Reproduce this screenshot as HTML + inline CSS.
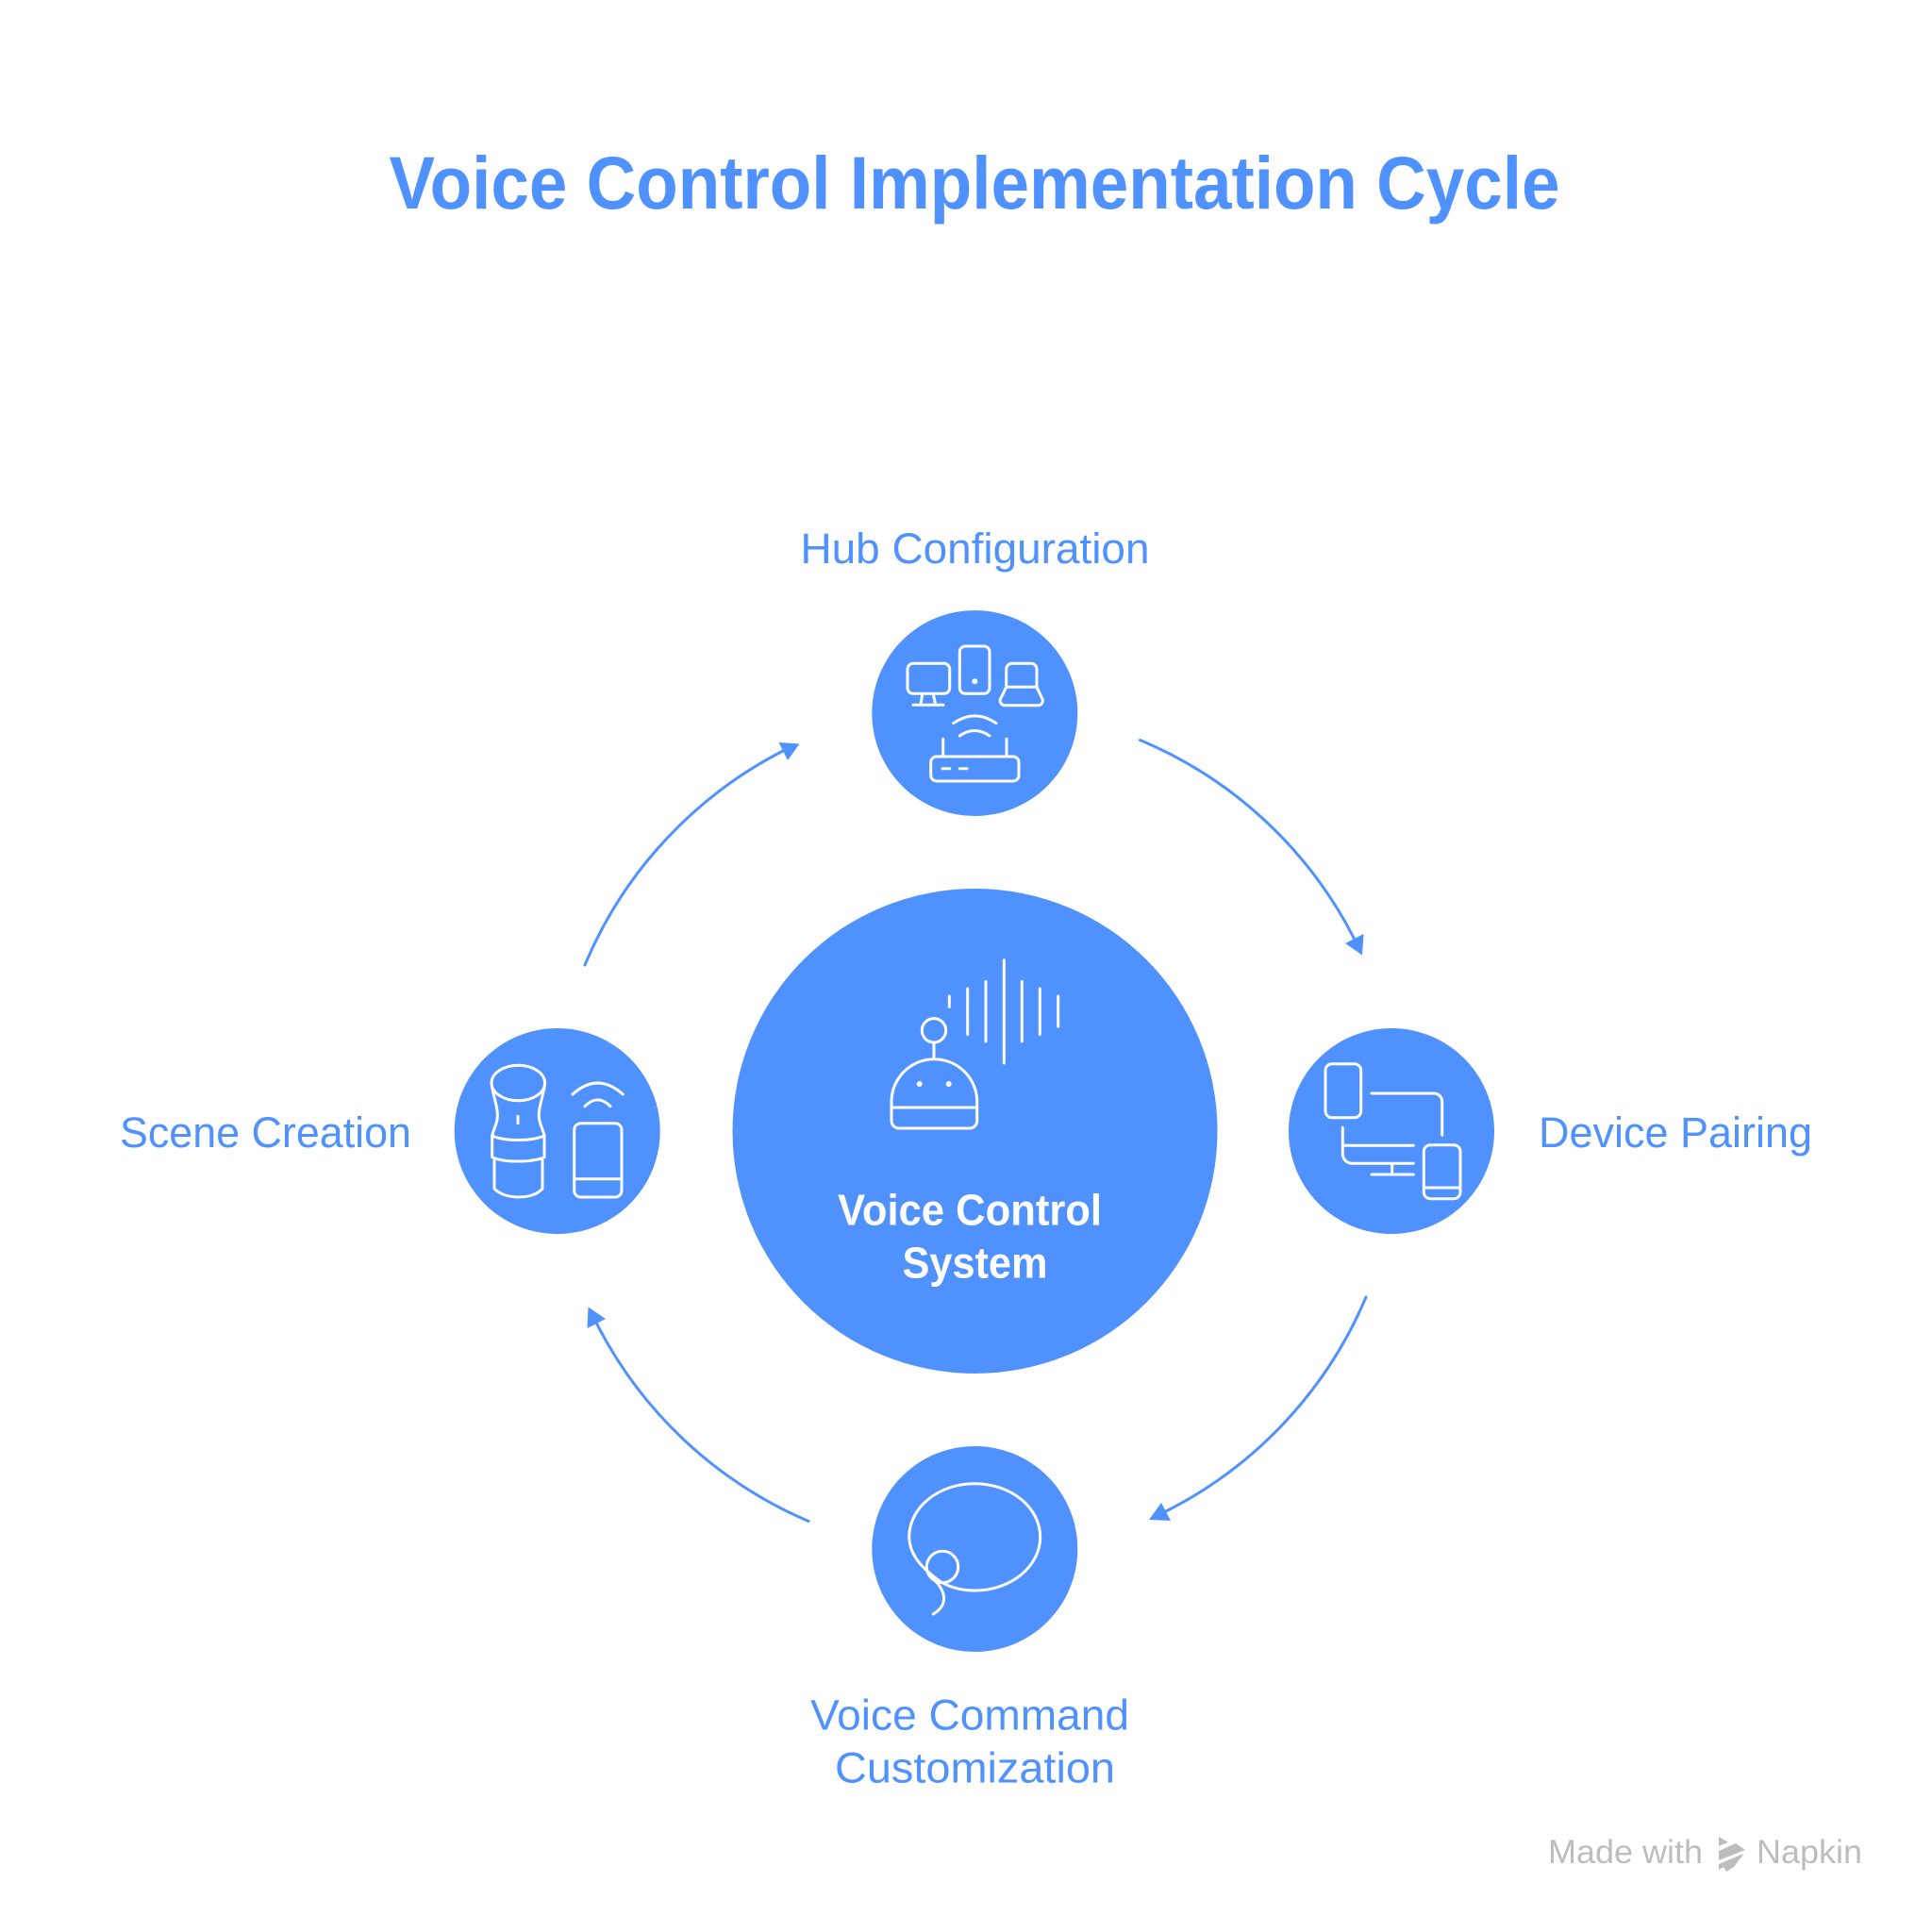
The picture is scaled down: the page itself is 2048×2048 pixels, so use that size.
<!DOCTYPE html>
<html>
<head>
<meta charset="utf-8">
<style>
html,body{margin:0;padding:0;background:#fff;}
svg{display:block;}
text{font-family:"Liberation Sans",sans-serif;}
.ic{fill:none;stroke:#fff;stroke-width:3;stroke-linecap:round;stroke-linejoin:round;}
.ar{fill:none;stroke:#4f92ff;stroke-width:3;stroke-linecap:round;}
.lb{fill:#4f92ff;font-size:45px;}
.cn{fill:#fff;font-size:46px;font-weight:bold;}
.wm{fill:#bdbdbd;font-size:35px;}
</style>
</head>
<body>
<svg width="2048" height="2048" viewBox="0 0 2048 2048" xmlns="http://www.w3.org/2000/svg">
<rect width="2048" height="2048" fill="#fff"/>

<text x="412.5" y="221" font-size="79" font-weight="bold" fill="#4f92ff" textLength="1241" lengthAdjust="spacingAndGlyphs">Voice Control Implementation Cycle</text>

<text class="lb" x="848.5" y="597" textLength="370" lengthAdjust="spacingAndGlyphs">Hub Configuration</text>
<text class="lb" x="1631" y="1216" textLength="290" lengthAdjust="spacingAndGlyphs">Device Pairing</text>
<text class="lb" x="127" y="1216" textLength="309" lengthAdjust="spacingAndGlyphs">Scene Creation</text>
<text class="lb" x="859" y="1833.5" textLength="338" lengthAdjust="spacingAndGlyphs">Voice Command</text>
<text class="lb" x="885" y="1889.5" textLength="297" lengthAdjust="spacingAndGlyphs">Customization</text>

<circle cx="1033.5" cy="1199" r="257" fill="#4f92ff"/>
<circle cx="1033.3" cy="756" r="109" fill="#4f92ff"/>
<circle cx="1475" cy="1199" r="109" fill="#4f92ff"/>
<circle cx="1033.3" cy="1642" r="109" fill="#4f92ff"/>
<circle cx="590.7" cy="1199" r="109" fill="#4f92ff"/>

<text class="cn" x="888" y="1298.5" textLength="280" lengthAdjust="spacingAndGlyphs">Voice Control</text>
<text class="cn" x="956.5" y="1354.5" textLength="154" lengthAdjust="spacingAndGlyphs">System</text>

<!-- arrows -->
<path class="ar" d="M1208.5 784.5 A450 450 0 0 1 1436 996"/>
<polygon points="1444,1012.5 1426,1000 1445.5,990" fill="#4f92ff"/>
<path class="ar" d="M1448 1375 A450 450 0 0 1 1234 1603"/>
<polygon points="1218,1611 1231,1593 1241,1612" fill="#4f92ff"/>
<path class="ar" d="M857 1612.5 A450 450 0 0 1 632 1402"/>
<polygon points="623.5,1385.5 642,1398 622.5,1408" fill="#4f92ff"/>
<path class="ar" d="M620 1023 A450 450 0 0 1 832 795"/>
<polygon points="847.5,788.5 835,806 825.5,787" fill="#4f92ff"/>

<!-- hub icon -->
<g class="ic">
<rect x="962" y="703.3" width="44.7" height="32" rx="6"/>
<path d="M977.7 736L976 746.7M989.3 736L991.7 746.7M968 747.3H1000"/>
<rect x="1017.3" y="685" width="31.7" height="50.3" rx="6"/>
<path d="M1066.7 728.3V709.3a6 6 0 0 1 6-6H1093a6 6 0 0 1 6 6V728.3M1066.7 728.3H1099L1104.5 740a5 5 0 0 1-4.5 7.7H1065.5a5 5 0 0 1-4.5-7.7Z"/>
<path d="M1010.7 766.7Q1033.3 751 1056 766.7M1017.3 780Q1033.3 769 1049 780"/>
<path d="M999.7 783.3V801.7M1067 783.3V801.7"/>
<rect x="986.7" y="802" width="93.3" height="26" rx="6"/>
<path d="M999 814.7H1006.7M1017.3 814.7H1025"/>
</g>
<circle cx="1033.3" cy="722.3" r="3" fill="#fff"/>

<!-- center icon -->
<g class="ic">
<path d="M1006.3 1056V1067.3M1025.7 1048V1096.5M1045 1040.5V1104M1064.3 1017.7V1127M1083.3 1040.5V1104M1102.3 1048V1096.5M1121.7 1056V1088.3"/>
<circle cx="990" cy="1092.3" r="12.7"/>
<path d="M990 1105.3V1120.7"/>
<path d="M945 1166A45.4 45.4 0 0 1 1035.7 1166V1188a8 8 0 0 1-8 8H953a8 8 0 0 1-8-8Z"/>
<path d="M945 1174H1035.7"/>
</g>
<circle cx="974.7" cy="1149" r="3" fill="#fff"/>
<circle cx="1005.7" cy="1149" r="3" fill="#fff"/>

<!-- device icon -->
<g class="ic">
<rect x="1405" y="1127.7" width="37.7" height="57" rx="7"/>
<path d="M1454 1159H1520a8.7 8.7 0 0 1 8.7 8.7V1203.3"/>
<path d="M1423.3 1195.3V1223.3a10 10 0 0 0 10 10H1498.3M1423.3 1214.3H1498.3M1475.7 1233.3V1245M1454 1245H1498.3"/>
<rect x="1509.3" y="1213.7" width="38.7" height="57" rx="7"/>
<path d="M1509.3 1259H1548"/>
</g>

<!-- voice icon -->
<g class="ic">
<path d="M1033.2 1572.7C1071.6 1572.7 1102.7 1598 1102.7 1629.3C1102.7 1660.6 1071.6 1686 1033.2 1686C1016 1686 1004 1681 996 1676C980 1664 964 1650 963.7 1629.3C963.7 1598 994.8 1572.7 1033.2 1572.7Z"/>
<circle cx="999" cy="1661" r="16.7"/>
<path d="M985 1670C1000 1682 1009 1699 989.3 1711"/>
</g>

<!-- scene icon -->
<g class="ic">
<ellipse cx="549.3" cy="1148" rx="28.3" ry="18.7"/>
<path d="M521.7 1153C525 1170 530 1180 525.7 1191.7L521.7 1203.3V1226.7C535 1232.5 563 1232.5 577 1226.7V1203.3L573 1191.7C568.6 1180 573.6 1170 577 1153"/>
<path d="M521.7 1204C535 1210 563 1210 577 1204"/>
<path d="M524 1230V1260C535 1272 565 1272 575 1260V1230"/>
<path d="M549 1183.3V1190.7"/>
<rect x="608.7" y="1190.7" width="50.3" height="78.3" rx="7"/>
<path d="M608.7 1249.7H659"/>
<path d="M607 1160Q633.6 1136 660.3 1160M620 1172.7Q633.5 1159 647 1172.7"/>
</g>

<!-- watermark -->
<text class="wm" x="1641" y="1975" font-weight="normal" textLength="164" lengthAdjust="spacingAndGlyphs">Made with</text>
<text class="wm" x="1862" y="1975" textLength="112" lengthAdjust="spacingAndGlyphs">Napkin</text>
<g fill="#bdbdbd">
<polygon points="1822,1947 1832,1953 1822,1957"/>
<polygon points="1822,1962 1840,1954 1850,1961 1822,1972"/>
<polygon points="1822,1976 1848,1965 1846,1969 1822,1982"/>
<polygon points="1830,1984 1827,1979 1846,1968 1838,1979"/>
</g>
</svg>
</body>
</html>
